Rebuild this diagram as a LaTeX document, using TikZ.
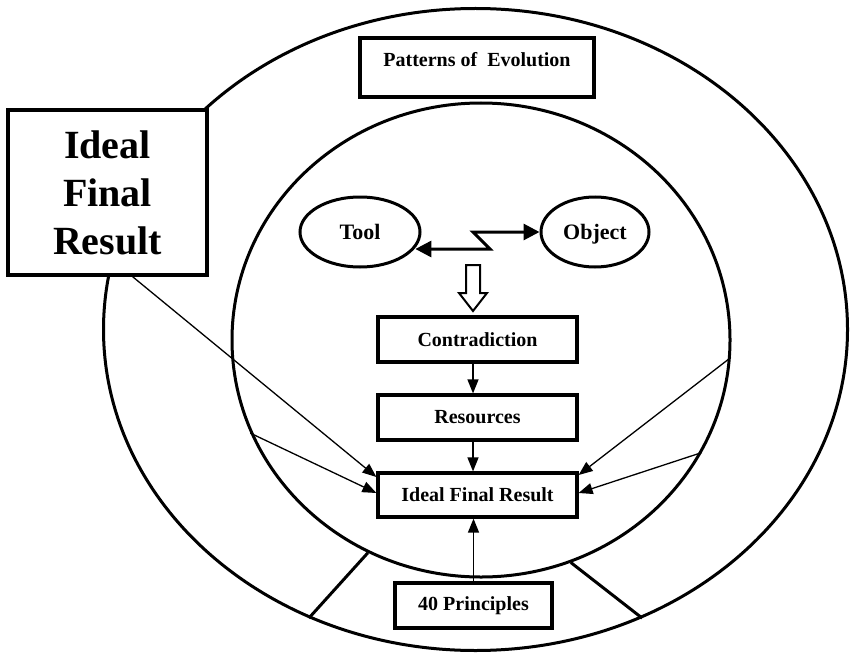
\documentclass[tikz,border=0pt]{standalone}
\usepackage{fontspec}
\setmainfont{Liberation Serif}
\usetikzlibrary{shapes.geometric,arrows.meta}
\begin{document}
\begin{tikzpicture}[x=1pt,y=-1pt,
  ring/.style={draw, ellipse, line width=3pt, inner sep=0pt},
  boxnode/.style={draw, line width=3.2pt, fill=white, inner sep=0pt,
    font=\fontsize{20}{24}\selectfont\bfseries},
  agent/.style={draw, ellipse, line width=3pt, fill=white, inner sep=0pt,
    text height=15pt, text depth=0pt,
    font=\fontsize{22}{26}\selectfont\bfseries},
  link/.style={line width=1.3pt, -{Triangle[length=14pt,width=11pt]}},
  zap/.style={line width=3pt, line join=miter,
    {Triangle[length=16pt,width=16pt]}-{Triangle[length=16pt,width=16pt]}},
  divider/.style={line width=3pt}]
\useasboundingbox (0,0) rectangle (850,655);

% the two rings
\node[ring, minimum width=744pt, minimum height=642pt] (outer) at (475.5,329.5) {};
\node[ring, minimum width=498pt, minimum height=474pt] (inner) at (481,340) {};

% dividers in the lower part of the outer ring
\draw[divider] (inner.242) -- (outer.240);
\draw[divider] (inner.-68) -- (outer.-60);

% heading box in the outer ring
\node[boxnode, minimum width=234pt, minimum height=59pt] (pat) at (477,67.5) {};
\node[font=\fontsize{20}{24}\selectfont\bfseries, inner sep=0pt] (pattext) at (477,60) {Patterns of\ \ Evolution};

% tool and object
\node[agent, minimum width=120pt, minimum height=70pt] (tool) at (360,232) {Tool};
\node[agent, minimum width=108pt, minimum height=70pt] (obj) at (595,232) {Object};
\coordinate (zA) at (490,249);
\coordinate (zB) at (473,232);
\draw[zap] (tool.-16 |- zA) -- (zA) -- (zB) -- (obj.west);

% hollow arrow
\draw[line width=2pt, fill=white, line join=miter]
  (466,265) -- (466,293) -- (459,293) -- (473,311) -- (487,293) -- (480,293) -- (480,265) -- cycle;

% chain of boxes
\node[boxnode, minimum width=199pt, minimum height=45pt] (con) at (477.5,339.5) {Contradiction};
\node[boxnode, minimum width=199pt, minimum height=45pt] (res) at (477.5,417.5) {Resources};
\node[boxnode, minimum width=199pt, minimum height=44pt] (ifr) at (477.5,495) {Ideal Final Result};
\node[boxnode, minimum width=157pt, minimum height=45pt] (pr) at (473.5,605.5) {40 Principles};

\draw[link] ([xshift=-4.5pt]con.south) -- ([xshift=-4.5pt]res.north);
\draw[link] ([xshift=-4.5pt]res.south) -- ([xshift=-4.5pt]ifr.north);
\draw[link] (pr.north) -- (pr.north |- ifr.south);

% large title box
\node[boxnode, minimum width=199pt, minimum height=165pt, align=center,
  font=\fontsize{40}{48}\selectfont\bfseries] (big) at (107.5,192.5) {Ideal\\Final\\Result};

% converging links
\draw[link] ([xshift=25pt]big.south) -- ([yshift=18pt]ifr.west);
\draw[link] (inner.202) -- ([yshift=2pt]ifr.west);
\draw[link] (inner.-4) -- ([yshift=20pt]ifr.east);
\draw[link] (inner.-27) -- ([yshift=2pt]ifr.east);
\end{tikzpicture}
\end{document}
